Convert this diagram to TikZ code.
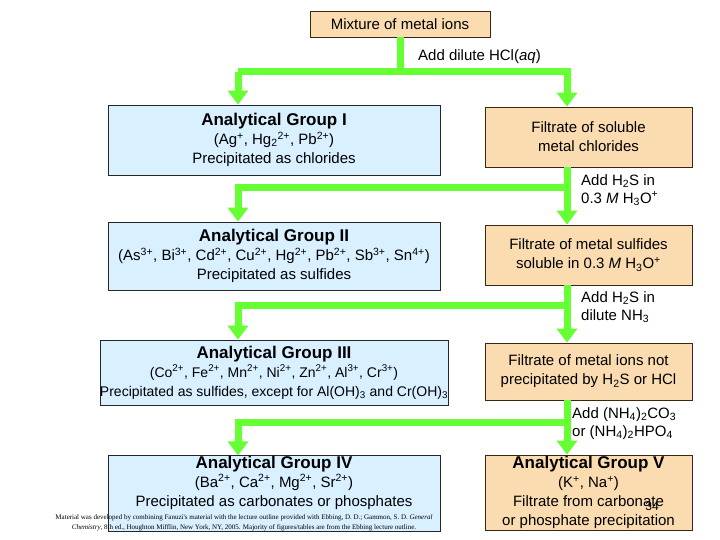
\documentclass[tikz,border=0pt]{standalone}
\usepackage{fontspec}
\setmainfont{Liberation Sans}
\newfontfamily\seriff{Liberation Serif}
\usetikzlibrary{arrows.meta}
\newcommand{\up}[1]{\textsuperscript{#1}}
\newcommand{\dn}[1]{\textsubscript{#1}}
\definecolor{gr}{RGB}{102,255,51}
\definecolor{lb}{RGB}{216,240,255}
\definecolor{org}{RGB}{250,220,176}
\begin{document}
\begin{tikzpicture}[x=1pt,y=-1pt,
 blue/.style={draw=black!85,line width=0.8pt,fill=lb,minimum width=332pt,align=center,font=\fontsize{15}{19}\selectfont,inner sep=0pt},
 tan/.style={draw=black!70!brown,line width=0.8pt,fill=org,minimum width=207pt,align=center,font=\fontsize{15}{19}\selectfont,inner sep=0pt},
 flow/.style={draw=gr,line width=7pt},
 arr/.style={flow,-{Triangle[width=20pt,length=14pt]}},
 lab/.style={anchor=north west,align=left,font=\fontsize{15}{18}\selectfont,inner sep=0pt}]
\useasboundingbox (0,0) rectangle (720,540);
\node[tan,minimum width=180pt,minimum height=26pt] (top) at (400,24) {Mixture of metal ions};
\node[blue,minimum height=70pt] (g1) at (274,140) {{\fontsize{17}{19}\selectfont\bfseries Analytical Group I}\\(Ag\up{+}, Hg\dn{2}\up{2+}, Pb\up{2+})\\Precipitated as chlorides};
\node[tan,minimum height=60pt] (f1) at (588.5,137) {Filtrate of soluble\\metal chlorides};
\node[blue,minimum height=68pt] (g2) at (274,256) {{\fontsize{17}{19}\selectfont\bfseries Analytical Group II}\\(As\up{3+}, Bi\up{3+}, Cd\up{2+}, Cu\up{2+}, Hg\up{2+}, Pb\up{2+}, Sb\up{3+}, Sn\up{4+})\\Precipitated as sulfides};
\node[tan,minimum height=60pt] (f2) at (588.5,255) {Filtrate of metal sulfides\\soluble in 0.3 \textit{M} H\dn{3}O\up{+}};
\node[blue,minimum height=65pt,font=\fontsize{14}{19}\selectfont] (g3) at (274,372.5) {{\fontsize{17}{19}\selectfont\bfseries Analytical Group III}\\(Co\up{2+}, Fe\up{2+}, Mn\up{2+}, Ni\up{2+}, Zn\up{2+}, Al\up{3+}, Cr\up{3+})\\Precipitated as sulfides, except for Al(OH)\dn{3} and Cr(OH)\dn{3}};
\node[tan,minimum height=57pt] (f3) at (588.5,371.5) {Filtrate of metal ions not\\precipitated by H\dn{2}S or HCl};
\node[blue,minimum height=73pt] (g4) at (274,493.5) {{\fontsize{17}{19}\selectfont\bfseries Analytical Group IV}\\(Ba\up{2+}, Ca\up{2+}, Mg\up{2+}, Sr\up{2+})\\Precipitated as carbonates or phosphates\\[6pt]};
\node[tan,minimum height=75pt] (g5) at (588.5,492.5) {{\fontsize{17}{19}\selectfont\bfseries Analytical Group V}\\(K\up{+}, Na\up{+})\\Filtrate from carbonate\\or phosphate precipitation};
% connectors
\coordinate (j0) at (400,72);
\draw[flow] (top.south) -- (j0);
\draw[arr] (238,72) -- (g1.north -| 238,0);
\draw[arr] (j0) -| (f1.north -| 567,0);
\draw[flow] (238,72) -- (j0);
\coordinate (j1) at (567,188);
\draw[flow] (f1.south -| 567,0) -- (j1);
\draw[arr] (j1) -| (g2.north -| 238,0);
\draw[arr] (j1) -- (f2.north -| 567,0);
\coordinate (j2) at (567,305);
\draw[flow] (f2.south -| 567,0) -- (j2);
\draw[arr] (j2) -| (g3.north -| 238,0);
\draw[arr] (j2) -- (f3.north -| 567,0);
\coordinate (j3) at (567,422);
\draw[flow] (f3.south -| 567,0) -- (j3);
\draw[arr] (j3) -| (g4.north -| 238,0);
\draw[arr] (j3) -- (g5.north -| 567,0);
% labels
\node[lab] (l0) at (418,49) {Add dilute HCl(\textit{aq})};
\node[lab] (l1) at (581,174) {Add H\dn{2}S in\\0.3 \textit{M} H\dn{3}O\up{+}};
\node[lab] (l2) at (581,291) {Add H\dn{2}S in\\dilute NH\dn{3}};
\node[lab] (l3) at (572,407) {Add (NH\dn{4})\dn{2}CO\dn{3}\\or (NH\dn{4})\dn{2}HPO\dn{4}};
\node[font=\fontsize{12}{14}\selectfont,inner sep=0pt] (pg) at (652,506) {34};
\node[font=\seriff\fontsize{7}{10}\selectfont,align=center,inner sep=0pt] (foot) at (244,523) {Material was developed by combining Fanuzi's material with the lecture outline provided with Ebbing, D. D.; Gammon, S. D. \textit{General}\\\textit{Chemistry}, 8th ed., Houghton Mifflin, New York, NY, 2005. Majority of figures/tables are from the Ebbing lecture outline.};
\end{tikzpicture}
\end{document}
